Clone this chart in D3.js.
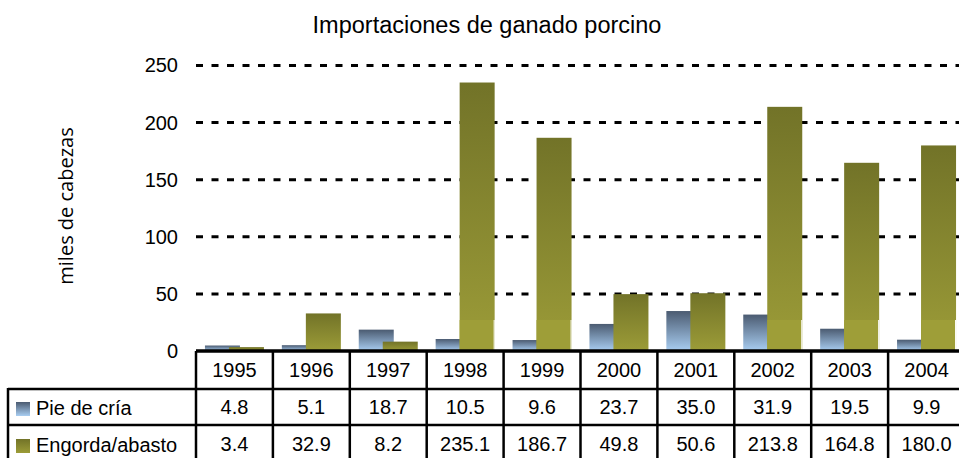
<!DOCTYPE html>
<html>
<head>
<meta charset="utf-8">
<script src="https://cdn.jsdelivr.net/npm/d3@7"></script>
<style>
  body { margin: 0; background: #fff; }
  svg { display: block; }
</style>
</head>
<body>
<div class="usable"></div>
<script>
const anios = ["1995", "1996", "1997", "1998", "1999", "2000", "2001", "2002", "2003", "2004"]
const pieDeCria = [4.8, 5.1, 18.7, 10.5, 9.6, 23.7, 35.0, 31.9, 19.5, 9.9]
const engorda = [3.4, 32.9, 8.2, 235.1, 186.7, 49.8, 50.6, 213.8, 164.8, 180.0]
const ticksY = [0, 50, 100, 150, 200, 250]
const nombres = ["Pie de cría", "Engorda/abasto"]

const width = 959,
  height = 458;

const izq = 196, der = 965, arriba = 65.5, base = 351
const altoFila = 37

let svg = d3.select(".usable").append("svg")
  .attr("width", width)
  .attr("height", height)

// gradientes de las barras
let defs = svg.append("defs")
function crearGradiente(id, c1, c2) {
  let g = defs.append("linearGradient").attr("id", id)
    .attr("x1", 0).attr("y1", 0).attr("x2", 0).attr("y2", 1)
  g.append("stop").attr("offset", "0%").attr("stop-color", c1)
  g.append("stop").attr("offset", "100%").attr("stop-color", c2)
}
crearGradiente("azul", "#4b5b71", "#a9cef2")
crearGradiente("oliva", "#727328", "#9c9c38")

let x = d3.scaleBand().domain(anios).range([izq, der]).padding(0)
let y = d3.scaleLinear().domain([0, 250]).range([base, arriba])

// titulo
svg.append("text")
  .attr("x", 487).attr("y", 33)
  .attr("text-anchor", "middle")
  .style("font-family", "Liberation Sans, Arial, sans-serif")
  .style("font-size", "23.5px")
  .text("Importaciones de ganado porcino")

// titulo eje y
svg.append("text")
  .attr("transform", "translate(73,206) rotate(-90)")
  .attr("text-anchor", "middle")
  .style("font-family", "Open Sans, sans-serif")
  .style("font-size", "20px")
  .text("miles de cabezas")

// lineas de la cuadricula
svg.append("g").selectAll("line")
  .data(ticksY.filter(d => d > 0))
  .enter().append("line")
  .attr("x1", izq).attr("x2", der)
  .attr("y1", d => y(d)).attr("y2", d => y(d))
  .attr("stroke", "#000").attr("stroke-width", 3)
  .attr("stroke-dasharray", "7,8.5")

// etiquetas eje y
let ejeY = d3.axisLeft(y).tickValues(ticksY).tickSize(0).tickPadding(18)
let gEje = svg.append("g").attr("transform", "translate(" + izq + ",0)").call(ejeY)
gEje.select(".domain").remove()
gEje.selectAll("text")
  .style("font-family", "Liberation Sans, Arial, sans-serif")
  .style("font-size", "20px")
  .attr("fill", "#000")

// barras
const anchoBarra = 35
let gBarras = svg.append("g")
gBarras.selectAll(".azul").data(anios).enter().append("rect")
  .attr("x", (d) => x(d) + x.bandwidth() / 2 - 29.5)
  .attr("width", anchoBarra)
  .attr("y", (d, i) => y(pieDeCria[i]))
  .attr("height", (d, i) => base - y(pieDeCria[i]))
  .attr("fill", "url(#azul)")

gBarras.selectAll(".oliva").data(anios).enter().append("g").each(function (d, i) {
  let g = d3.select(this)
  let x0 = x(d) + x.bandwidth() / 2 - 5.5
  let top = y(engorda[i])
  g.append("rect").attr("x", x0).attr("width", anchoBarra)
    .attr("y", top).attr("height", base - top)
    .attr("fill", "url(#oliva)")
  // en las barras altas la parte de abajo sale un poco mas clara
  if (engorda[i] > 100) {
    let inicio = base - 31
    g.append("rect").attr("x", x0).attr("width", anchoBarra - 1)
      .attr("y", inicio).attr("height", base - inicio)
      .attr("fill", "#9e9e38")
    g.append("rect").attr("x", x0 + anchoBarra - 1).attr("width", 1)
      .attr("y", inicio).attr("height", base - inicio)
      .attr("fill", "#fff")
  }
})

// tabla de datos
const fuente = "Liberation Sans, Arial, sans-serif"
let tabla = svg.append("g").attr("stroke", "#000").attr("stroke-width", 2.5)
// lineas horizontales
tabla.append("line").attr("x1", izq).attr("x2", der).attr("y1", base).attr("y2", base).attr("stroke-width", 3.5)
tabla.append("line").attr("x1", 8).attr("x2", der).attr("y1", base + altoFila + 1).attr("y2", base + altoFila + 1)
tabla.append("line").attr("x1", 8).attr("x2", der).attr("y1", base + 2 * altoFila).attr("y2", base + 2 * altoFila)
// lineas verticales
tabla.append("line").attr("x1", 8).attr("x2", 8).attr("y1", base + altoFila).attr("y2", height + 5)
tabla.selectAll(".v").data(anios).enter().append("line")
  .attr("x1", d => x(d)).attr("x2", d => x(d))
  .attr("y1", base).attr("y2", height + 5)

let textos = svg.append("g")
  .style("font-family", fuente)
  .style("font-size", "20px")
  .attr("text-anchor", "middle")
textos.selectAll(".anio").data(anios).enter().append("text")
  .attr("x", d => x(d) + x.bandwidth() / 2)
  .attr("y", base + 26)
  .text(d => d)
textos.selectAll(".pie").data(pieDeCria).enter().append("text")
  .attr("x", (d, i) => x(anios[i]) + x.bandwidth() / 2)
  .attr("y", base + altoFila + 26)
  .text(d => d.toFixed(1))
textos.selectAll(".eng").data(engorda).enter().append("text")
  .attr("x", (d, i) => x(anios[i]) + x.bandwidth() / 2)
  .attr("y", base + 2 * altoFila + 26)
  .text(d => d.toFixed(1))

// leyenda dentro de la tabla
let leyenda = svg.append("g")
nombres.forEach(function (n, i) {
  let yy = base + altoFila * (i + 1)
  leyenda.append("rect").attr("x", 16).attr("y", yy + 14).attr("width", 14).attr("height", 14)
    .attr("fill", i == 0 ? "url(#azul)" : "url(#oliva)")
  leyenda.append("text").attr("x", 36).attr("y", yy + 27)
    .style("font-family", fuente).style("font-size", "20px")
    .text(n)
})
</script>
</body>
</html>
